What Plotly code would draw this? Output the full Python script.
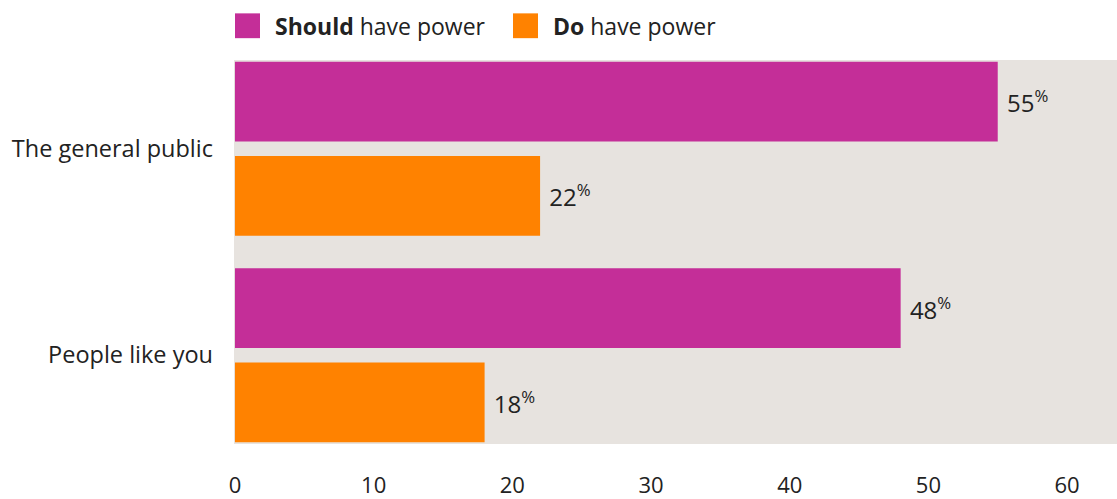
import plotly.graph_objects as go

categories = ["The general public", "People like you"]
should_values = [55, 48]
do_values = [22, 18]
x_ticks = [0, 10, 20, 30, 40, 50, 60]

MAGENTA = "#c42e98"
ORANGE = "#ff8200"
BG = "#e7e3df"
TXT = "#222222"
FONT = "Open Sans"

def labels(vals):
    return ["\u00a0%d<sup>%%</sup>" % v for v in vals]

fig = go.Figure()
fig.add_trace(go.Bar(y=categories, x=should_values, orientation="h", name="Should have power",
                     marker=dict(color=MAGENTA, line=dict(width=0)),
                     text=labels(should_values), textposition="outside",
                     textfont=dict(family=FONT, size=24, color=TXT), cliponaxis=False))
fig.add_trace(go.Bar(y=categories, x=do_values, orientation="h", name="Do have power",
                     marker=dict(color=ORANGE, line=dict(width=0)),
                     text=labels(do_values), textposition="outside",
                     textfont=dict(family=FONT, size=24, color=TXT), cliponaxis=False))

fig.update_layout(
    width=1117, height=499,
    margin=dict(l=234, r=0, t=60, b=52),
    paper_bgcolor="white", plot_bgcolor=BG,
    barmode="group", bargap=0.087, bargroupgap=0.153,
    showlegend=False,
    font=dict(family=FONT, size=21, color=TXT),
    xaxis=dict(range=[-0.07, 63.6], tickvals=x_ticks, showgrid=False, zeroline=False,
               showline=False, ticks="", ticklabelstandoff=26,
               tickfont=dict(family=FONT, size=22, color=TXT)),
    yaxis=dict(range=[1.43, -0.43], showgrid=False, zeroline=False, showline=False,
               ticks="", ticklabelstandoff=20,
               tickfont=dict(family=FONT, size=23.5, color=TXT)),
)

# custom legend
legend_items = [("<b>Should</b> have power", MAGENTA, 235), ("<b>Do</b> have power", ORANGE, 513)]
for text, color, x0 in legend_items:
    fig.add_shape(type="rect", xref="paper", yref="paper",
                  x0=(x0 - 234) / 883, x1=(x0 + 25 - 234) / 883,
                  y0=(499 - 38 - 52) / 387, y1=(499 - 13 - 52) / 387,
                  fillcolor=color, line=dict(width=0))
    fig.add_annotation(xref="paper", yref="paper", x=(x0 + 38 - 234) / 883,
                       y=(499 - 25.5 - 52) / 387, text=text, showarrow=False,
                       xanchor="left", yanchor="middle",
                       font=dict(family=FONT, size=23, color=TXT))

fig.write_html("out.html")
